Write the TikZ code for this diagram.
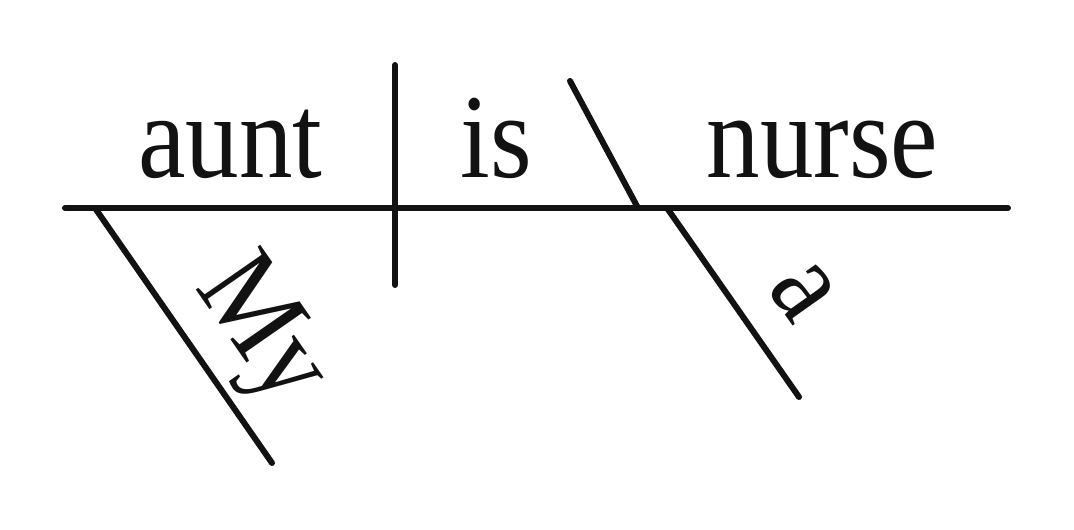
\documentclass[tikz,border=0pt]{standalone}
\usepackage{fontspec}
\setmainfont{Liberation Serif}
\usetikzlibrary{calc}
\begin{document}
\begin{tikzpicture}[x=1pt,y=1pt,
  rule/.style={line width=6pt, line cap=round, color=black!93},
  word/.style={inner sep=0pt, anchor=base, text=black!93, font=\fontsize{107}{120}\selectfont}]
\useasboundingbox (0,0) rectangle (1074,530);
% main line
\coordinate (L) at (65,322);
\coordinate (R) at (1008,322);
\coordinate (vt) at (395,465);
\coordinate (vb) at (395,245);
\coordinate (st) at (570,449);
\coordinate (sb) at (638,322);
\coordinate (m1s) at (95,322);
\coordinate (m1e) at (272,67);
\coordinate (m2s) at (667,322);
\coordinate (m2e) at (799,133);
\draw[rule] (L) -- (R);
\draw[rule] (vt) -- (vb);
\draw[rule] (st) -- (sb);
\draw[rule] (m1s) -- (m1e);
\draw[rule] (m2s) -- (m2e);
% words
\node[word] (aunt) at (230.5,352) {\scalebox{1}[1.12]{aunt}};
\node[word] (is) at (496,352) {\scalebox{1}[1.12]{is}};
\node[word] (nurse) at (822.5,352) {\scalebox{1}[1.12]{nurse}};
\coordinate (p1) at ($(m1s)!0.632!(m1e)$);
\coordinate (t1) at ($(p1)!36pt!90:(m1e)$);
\coordinate (p2) at ($(m2s)!0.635!(m2e)$);
\coordinate (t2) at ($(p2)!36pt!90:(m2e)$);
\node[word, rotate=-55.2] (my) at (t1) {\scalebox{1}[1.12]{My}};
\node[word, rotate=-54.7] (a) at (t2) {\scalebox{1}[1.12]{a}};
\end{tikzpicture}
\end{document}
